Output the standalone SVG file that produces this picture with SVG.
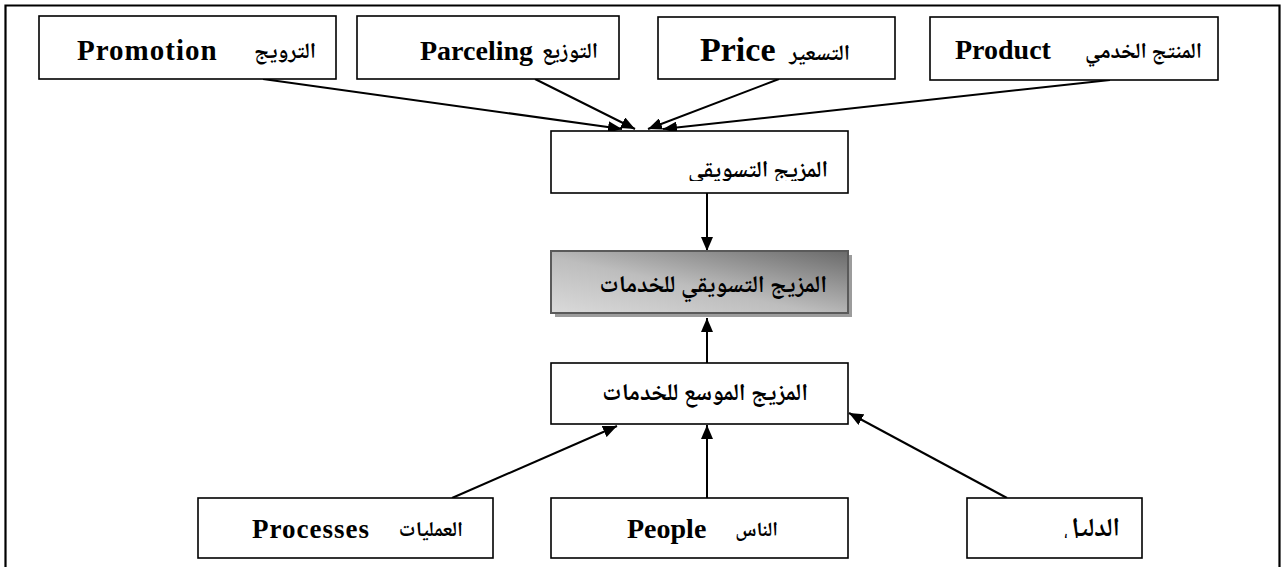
<svg xmlns="http://www.w3.org/2000/svg" width="1282" height="567" viewBox="0 0 1282 567">
  <style>
    .box { fill: #ffffff; stroke: #000000; stroke-width: 1.6; }
    .lat { font-family: "Liberation Serif", "Times New Roman", serif; font-weight: bold; fill: #000; }
    .ar { font-family: "Noto Naskh Arabic", "Noto Sans Arabic", "DejaVu Sans", serif; font-weight: bold; fill: #000; direction: rtl; }
    .link { stroke: #000000; stroke-width: 2; fill: none; marker-end: url(#arrow); }
  </style>
  <defs>
    <marker id="arrow" markerUnits="userSpaceOnUse" markerWidth="14" markerHeight="12" refX="14" refY="6" orient="auto">
      <path d="M0,0 L14,6 L0,12 z" fill="#000000"/>
    </marker>
    <linearGradient id="mixFill" x1="0" y1="1" x2="1" y2="0">
      <stop offset="0" stop-color="#dadada"/>
      <stop offset="0.45" stop-color="#bdbdbd"/>
      <stop offset="1" stop-color="#6a6a6a"/>
    </linearGradient>
    <!-- the two labels below are cut off at the bottom of their text frames -->
    <clipPath id="clipMix"><rect x="551" y="131" width="297" height="50"/></clipPath>
    <clipPath id="clipEvidence"><rect x="967" y="498" width="175" height="40"/></clipPath>
  </defs>

  <!-- outer frame -->
  <path d="M5.5,567 V5.5 H1279.5 V567" fill="none" stroke="#000" stroke-width="2.2"/>

  <!-- connectors -->
  <g id="connectors">
    <line class="link" x1="263" y1="79" x2="622" y2="129"/>
    <line class="link" x1="535" y1="79" x2="635" y2="129"/>
    <line class="link" x1="779" y1="79" x2="648" y2="129"/>
    <line class="link" x1="1110" y1="80" x2="663" y2="129"/>
    <line class="link" x1="707" y1="193" x2="707" y2="251"/>
    <line class="link" x1="707" y1="363" x2="707" y2="318"/>
    <line class="link" x1="707" y1="498" x2="707" y2="425"/>
    <line class="link" x1="452" y1="498" x2="617" y2="426"/>
    <line class="link" x1="1007" y1="498" x2="849" y2="413"/>
  </g>

  <g id="promotion">
    <rect class="box" x="39" y="16" width="297" height="63"/>
    <text class="lat" x="77" y="60" font-size="29" letter-spacing="1">Promotion</text>
    <text class="ar" x="316" y="58" font-size="22" text-anchor="start">الترويج</text>
  </g>

  <g id="parceling">
    <rect class="box" x="357" y="16" width="262" height="63"/>
    <text class="lat" x="420" y="60" font-size="28">Parceling</text>
    <text class="ar" x="598" y="58" font-size="22" text-anchor="start">التوزيع</text>
  </g>

  <g id="price">
    <rect class="box" x="658" y="17" width="237" height="62"/>
    <text class="lat" x="700" y="61" font-size="34">Price</text>
    <text class="ar" x="850" y="60" font-size="22" text-anchor="start">التسعير</text>
  </g>

  <g id="product">
    <rect class="box" x="930" y="17" width="288" height="63"/>
    <text class="ar" x="1202" y="58" font-size="22" text-anchor="start">المنتج الخدمي</text>
    <text class="lat" x="955" y="59" font-size="28">Product</text>
  </g>

  <g id="marketing-mix">
    <rect class="box" x="551" y="131" width="297" height="62"/>
    <text class="ar" x="828" y="177" font-size="23" text-anchor="start" clip-path="url(#clipMix)">المزيج التسويقي</text>
  </g>

  <g id="services-mix">
    <rect x="555" y="255" width="297" height="62" fill="#9c9c9c"/>
    <rect x="551" y="251" width="297" height="62" fill="url(#mixFill)" stroke="#5a5a5a" stroke-width="2"/>
    <text class="ar" x="827" y="292" font-size="24" text-anchor="start">المزيج التسويقي للخدمات</text>
  </g>

  <g id="extended-mix">
    <rect class="box" x="551" y="363" width="297" height="61"/>
    <text class="ar" x="808" y="400" font-size="24" text-anchor="start">المزيج الموسع للخدمات</text>
  </g>

  <g id="processes">
    <rect class="box" x="198" y="498" width="295" height="60"/>
    <text class="lat" x="252" y="538" font-size="27" letter-spacing="1">Processes</text>
    <text class="ar" x="463" y="536" font-size="21" text-anchor="start">العمليات</text>
  </g>

  <g id="people">
    <rect class="box" x="551" y="498" width="297" height="60"/>
    <text class="lat" x="627" y="538" font-size="28">People</text>
    <text class="ar" x="778" y="536" font-size="20" text-anchor="start">الناس</text>
  </g>

  <g id="physical-evidence">
    <rect class="box" x="967" y="498" width="175" height="60"/>
    <text class="ar" x="1120" y="536" font-size="26" text-anchor="start" clip-path="url(#clipEvidence)">الدليل</text>
  </g>
</svg>
